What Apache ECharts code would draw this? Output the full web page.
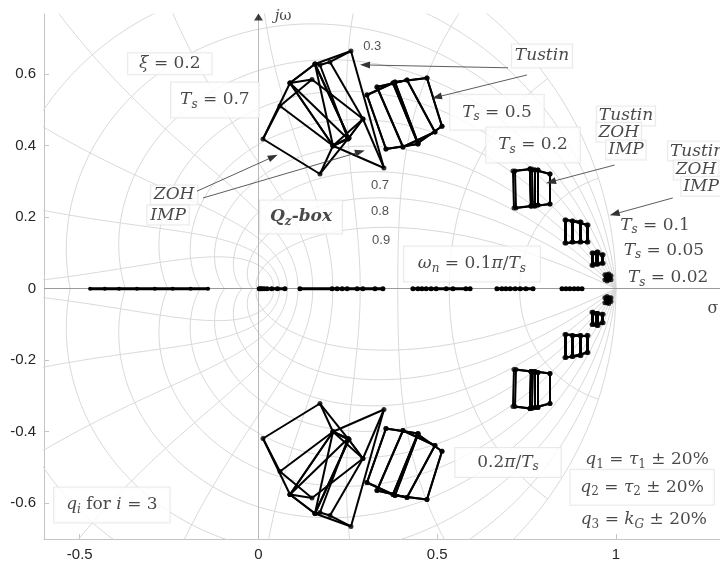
<!DOCTYPE html>
<html>
<head>
<meta charset="utf-8">
<script src="https://cdn.jsdelivr.net/npm/echarts@6/dist/echarts.min.js"></script>
<style>html,body{margin:0;padding:0;background:#fff}#c{width:720px;height:563px}</style>
</head>
<body>
<div id="c"></div>
<script>
// z-plane grid levels: damping ratios and natural frequencies (x pi/Ts)
const zetaLevels = [0, 0.1, 0.2, 0.3, 0.4, 0.5, 0.6, 0.7, 0.8, 0.9];
const wnLevels = [0.1, 0.2, 0.3, 0.4, 0.5, 0.6, 0.7, 0.8, 0.9, 1.0];
const zetaLabels = [['0.3', 0.318, 0.679], ['0.7', 0.340, 0.290], ['0.8', 0.340, 0.215], ['0.9', 0.343, 0.136]];

const xTicks = [-0.5, 0, 0.5, 1];
const yTicks = [-0.6, -0.4, -0.2, 0, 0.2, 0.4, 0.6];

// Qz-box vertices (upper half-plane, 8 cube corners each: q1,q2,q3 bits)
const boxTs07 = [
  [[0.0126,0.4189],[0.1720,0.3210],[0.0601,0.5112],[0.2084,0.4000],[0.0881,0.5755],[0.2503,0.4189],[0.1497,0.5853],[0.2923,0.4748]],
  [[0.1580,0.6287],[0.2587,0.6650],[0.2084,0.4000],[0.3510,0.3378],[0.1720,0.6259],[0.2000,0.6343],[0.2503,0.4189],[0.2923,0.4748]],
  [[0.0881,0.5755],[0.1580,0.6287],[0.2084,0.4000],[0.2531,0.4217],[0.0881,0.5755],[0.1580,0.6287],[0.2084,0.4000],[0.2531,0.4217]]
];
const boxTs05 = [
  [[0.3035,0.5420],[0.3762,0.5755],[0.3566,0.3909],[0.4462,0.4049],[0.3035,0.5420],[0.3762,0.5755],[0.3566,0.3909],[0.4462,0.4049]],
  [[0.3315,0.5643],[0.4154,0.5839],[0.4042,0.3965],[0.4937,0.4385],[0.3315,0.5643],[0.4154,0.5839],[0.4042,0.3965],[0.4937,0.4385]],
  [[0.3818,0.5783],[0.4713,0.5895],[0.4462,0.4077],[0.5133,0.4545],[0.3818,0.5783],[0.4713,0.5895],[0.4462,0.4077],[0.5133,0.4545]]
];
const boxTs02 = [
  [[0.7119,0.3294],[0.7594,0.3350],[0.7147,0.2259],[0.7622,0.2315],[0.7175,0.3294],[0.7650,0.3350],[0.7203,0.2259],[0.7678,0.2315]],
  [[0.7594,0.3350],[0.7818,0.3322],[0.7622,0.2315],[0.7818,0.2343],[0.7594,0.3350],[0.7818,0.3322],[0.7622,0.2315],[0.7818,0.2343]],
  [[0.7734,0.3322],[0.8154,0.3210],[0.7734,0.2315],[0.8154,0.2371],[0.7734,0.3322],[0.8154,0.3210],[0.7734,0.2315],[0.8154,0.2371]]
];
const boxTs01 = [
  [[0.8573,0.1923],[0.8993,0.1867],[0.8573,0.1279],[0.8993,0.1307],[0.8601,0.1923],[0.9021,0.1867],[0.8601,0.1279],[0.9021,0.1307]],
  [[0.8769,0.1895],[0.9189,0.1783],[0.8769,0.1307],[0.9189,0.1307],[0.8797,0.1895],[0.9217,0.1783],[0.8797,0.1307],[0.9217,0.1307]]
];
const boxTs005 = [
  [[0.933,0.100],[0.947,0.103],[0.933,0.066],[0.947,0.069],[0.936,0.100],[0.950,0.103],[0.936,0.066],[0.950,0.069]],
  [[0.944,0.100],[0.961,0.095],[0.944,0.069],[0.961,0.071],[0.947,0.100],[0.964,0.095],[0.947,0.069],[0.964,0.071]]
];
const boxTs002 = [
  [[0.969,0.039],[0.980,0.041],[0.969,0.025],[0.980,0.025],[0.975,0.039],[0.986,0.036],[0.975,0.022],[0.986,0.025]]
];

// real closed-loop poles of the same parameter boxes
const realGroups = [
  [-0.471, -0.430, -0.390, -0.340, -0.290, -0.240, -0.190, -0.141],
  [0.002, 0.006, 0.010, 0.016, 0.024, 0.037, 0.053, 0.074],
  [0.116, 0.206, 0.220, 0.234, 0.248, 0.276, 0.292, 0.326, 0.348],
  [0.432, 0.446, 0.457, 0.469, 0.483, 0.497, 0.525, 0.544, 0.580, 0.592],
  [0.667, 0.681, 0.692, 0.704, 0.718, 0.732, 0.748, 0.768],
  [0.849, 0.860, 0.871, 0.883, 0.894, 0.905]
];

const SERIF = '"DejaVu Serif", "Liberation Serif", serif';
const INK = '#1a1a1a';
const rich = {
  n: { fontFamily: SERIF, fontSize: 17, color: INK },
  i: { fontFamily: SERIF, fontSize: 17, fontStyle: 'italic', color: INK },
  s: { fontFamily: SERIF, fontSize: 12, fontStyle: 'italic', color: INK, padding: [9, 0, 0, 0] },
  sn: { fontFamily: SERIF, fontSize: 12, color: INK, padding: [9, 0, 0, 0] },
  b: { fontFamily: SERIF, fontSize: 17, fontStyle: 'italic', fontWeight: 'bold', color: INK },
  bs: { fontFamily: SERIF, fontSize: 12, fontStyle: 'italic', fontWeight: 'bold', color: INK, padding: [9, 0, 0, 0] }
};

// annotations: [rich text, x, y, framed, padding]
const notes = [
  ['{i|ξ}{n| = 0.2}', -0.248, 0.629, true, [2, 11]],
  ['{i|T}{s|s}{n| = 0.7}', -0.122, 0.528, true, [7, 9]],
  ['{i|ZOH}', -0.236, 0.262, true, [1, 3]],
  ['{i|IMP}', -0.253, 0.206, true, [1, 3]],
  ['{b|Q}{bs|z}{b|-box}', 0.119, 0.201, true, [6, 10]],
  ['{i|Tustin}', 0.793, 0.651, true, [3, 3]],
  ['{i|T}{s|s}{n| = 0.5}', 0.667, 0.494, true, [7, 12]],
  ['{i|T}{s|s}{n| = 0.2}', 0.768, 0.402, true, [7, 12]],
  ['{i|Tustin}', 1.028, 0.483, true, [1, 2]],
  ['{i|ZOH}', 1.008, 0.438, true, [1, 2]],
  ['{i|IMP}', 1.028, 0.388, true, [1, 2]],
  ['{i|Tustin}', 1.227, 0.385, true, [1, 2]],
  ['{i|ZOH}', 1.224, 0.332, true, [1, 2]],
  ['{i|IMP}', 1.238, 0.287, true, [1, 2]],
  ['{i|T}{s|s}{n| = 0.1}', 1.109, 0.176, false, [1, 2]],
  ['{i|T}{s|s}{n| = 0.05}', 1.134, 0.106, false, [1, 2]],
  ['{i|T}{s|s}{n| = 0.02}', 1.146, 0.030, false, [1, 2]],
  ['{i|ω}{s|n}{n| = 0.1}{i|π}{n|/}{i|T}{s|s}', 0.597, 0.069, true, [7, 14]],
  ['{n|0.2}{i|π}{n|/}{i|T}{s|s}', 0.698, -0.486, true, [4, 22]],
  ['{i|q}{sn|1}{n| = }{i|τ}{sn|1}{n| ± 20%}', 1.087, -0.479, false, [1, 2]],
  ['{i|q}{sn|2}{n| = }{i|τ}{sn|2}{n| ± 20%}', 1.073, -0.555, true, [7, 10]],
  ['{i|q}{sn|3}{n| = }{i|k}{s|G}{n| ± 20%}', 1.078, -0.647, false, [1, 2]],
  ['{i|q}{s|i}{n| for }{i|i}{n| = 3}', -0.410, -0.605, true, [7, 12]]
];

// pointer lines from labels to boxes: [fromX, fromY, toX, toY]
const pointers = [
  [-0.172, 0.273, 0.041, 0.369],
  [-0.155, 0.254, 0.284, 0.383],
  [0.698, 0.618, 0.298, 0.626],
  [0.751, 0.598, 0.499, 0.536],
  [0.996, 0.346, 0.818, 0.299],
  [1.159, 0.254, 0.996, 0.209]
];

const X_MIN = -0.6, X_MAX = 1.291, Y_MIN = -0.7, Y_MAX = 0.7685;

const series = [];

// constant damping spirals and constant natural-frequency curves
const N = 200;
zetaLevels.forEach(z => {
  const a = z / Math.sqrt(1 - z * z);
  [1, -1].forEach(sg => {
    const d = [];
    for (let k = 0; k <= N; k++) {
      const th = Math.PI * k / N, r = Math.exp(-a * th);
      d.push([r * Math.cos(th), sg * r * Math.sin(th)]);
    }
    series.push({ type: 'line', data: d, symbol: 'none', silent: true, z: 1,
      lineStyle: { color: '#d8d8d8', width: 1 } });
  });
});
wnLevels.forEach(w0 => {
  const w = w0 * Math.PI;
  [1, -1].forEach(sg => {
    const d = [];
    for (let k = 0; k <= N; k++) {
      const z = k / N, r = Math.exp(-z * w), th = w * Math.sqrt(1 - z * z);
      d.push([r * Math.cos(th), sg * r * Math.sin(th)]);
    }
    series.push({ type: 'line', data: d, symbol: 'none', silent: true, z: 1,
      lineStyle: { color: '#d8d8d8', width: 1 } });
  });
});

// damping labels
series.push({
  type: 'scatter', symbolSize: 1, itemStyle: { color: 'transparent' }, z: 2, silent: true,
  data: zetaLabels.map(l => ({ value: [l[1], l[2]], name: l[0] })),
  label: { show: true, position: 'inside', formatter: p => p.name,
    fontFamily: '"Liberation Sans", Arial, sans-serif', fontSize: 13, color: '#262626' }
});

// axes through the origin (kept underneath the pole marks)
series.push({
  type: 'scatter', data: [], silent: true, z: 2,
  markLine: { silent: true, symbol: 'none', animation: false, z: 2, label: { show: false },
    data: [
      [{ coord: [0, Y_MIN], lineStyle: { color: '#b8b8b8', width: 1, type: 'solid' } }, { coord: [0, Y_MAX] }],
      [{ coord: [X_MIN, 0], lineStyle: { color: '#9a9a9a', width: 1, type: 'solid' } }, { coord: [X_MAX, 0] }]
    ] }
});
series.push({
  type: 'scatter', data: [[0, 0.760]], symbol: 'triangle', symbolSize: [9, 7], silent: true, z: 3,
  itemStyle: { color: '#111' }
});

// cube edges
const cubeEdges = [];
for (let i = 0; i < 8; i++) [1, 2, 4].forEach(b => { const j = i ^ b; if (j > i) cubeEdges.push([i, j]); });

const allBoxes = [].concat(boxTs07, boxTs05, boxTs02, boxTs01, boxTs005, boxTs002);
const edgeData = [], vertData = [];
allBoxes.forEach(box => {
  [1, -1].forEach(sg => {
    const pts = box.map(p => [p[0], sg * p[1]]);
    cubeEdges.forEach(e => edgeData.push({ coords: [pts[e[0]], pts[e[1]]] }));
    pts.forEach(p => vertData.push(p));
  });
});
series.push({
  type: 'lines', coordinateSystem: 'cartesian2d', data: edgeData, silent: true, z: 4,
  lineStyle: { color: '#000', width: 2, opacity: 1 }, polyline: false
});
series.push({
  type: 'scatter', data: vertData, symbolSize: 5, silent: true, z: 4,
  itemStyle: { color: '#000' }
});

// real-axis pole sets
realGroups.forEach((g, gi) => {
  series.push({
    type: 'line', data: g.map(x => [x, 0]), symbol: 'circle', symbolSize: gi === 0 ? 4 : 5, showSymbol: true,
    silent: true, z: 4, lineStyle: { color: '#000', width: 3 }, itemStyle: { color: '#000', borderWidth: 0 }
  });
});

// pointer arrows
series.push({
  type: 'scatter', data: [], silent: true, z: 6,
  markLine: { silent: true, symbol: ['none', 'triangle'], symbolSize: [7, 10], animation: false, z: 6,
    label: { show: false },
    lineStyle: { color: '#333', width: 0.8, type: 'solid' },
    data: pointers.map(p => [{ coord: [p[0], p[1]] }, { coord: [p[2], p[3]] }]) }
});

// text annotations
series.push({
  type: 'scatter', symbolSize: 1, itemStyle: { color: 'transparent' }, silent: true, z: 5,
  data: notes.map(n => ({
    value: [n[1], n[2]],
    label: {
      show: true, position: 'inside', formatter: n[0], rich: rich,
      backgroundColor: n[3] ? '#fff' : 'transparent',
      borderColor: n[3] ? '#e4e4e4' : 'transparent', borderWidth: n[3] ? 1 : 0,
      padding: n[4]
    }
  }))
});

// axis letters
series.push({
  type: 'scatter', symbolSize: 1, itemStyle: { color: 'transparent' }, silent: true, z: 5,
  data: [
    { value: [0.069, 0.763], label: { show: true, position: 'inside', formatter: '{i|j}{n|ω}',
      rich: { i: { fontFamily: SERIF, fontStyle: 'italic', fontSize: 15, color: INK }, n: { fontFamily: SERIF, fontSize: 15, color: INK } } } },
    { value: [1.271, -0.057], label: { show: true, position: 'inside', formatter: 'σ',
      fontFamily: SERIF, fontSize: 16, color: INK } }
  ]
});

const chart = echarts.init(document.getElementById('c'), null, { renderer: 'canvas' });
chart.setOption({
  animation: false,
  backgroundColor: '#fff',
  grid: { left: 44, top: 14, width: 676, height: 525, containLabel: false },
  xAxis: {
    type: 'value', min: X_MIN, max: X_MAX,
    axisLine: { show: true, onZero: false, lineStyle: { color: '#c4c4c4', width: 1 } },
    axisTick: { show: true, inside: true, length: 5, customValues: xTicks, lineStyle: { color: '#c4c4c4' } },
    axisLabel: { customValues: xTicks, color: '#262626', fontSize: 15,
      fontFamily: '"Liberation Sans", Arial, sans-serif', margin: 8, formatter: v => String(v) },
    splitLine: { show: false }
  },
  yAxis: {
    type: 'value', min: Y_MIN, max: Y_MAX,
    axisLine: { show: true, onZero: false, lineStyle: { color: '#c4c4c4', width: 1 } },
    axisTick: { show: true, inside: true, length: 5, customValues: yTicks, lineStyle: { color: '#c4c4c4' } },
    axisLabel: { customValues: yTicks, color: '#262626', fontSize: 15,
      fontFamily: '"Liberation Sans", Arial, sans-serif', margin: 8, formatter: v => String(v) },
    splitLine: { show: false }
  },
  series: series
});
</script>
</body>
</html>
